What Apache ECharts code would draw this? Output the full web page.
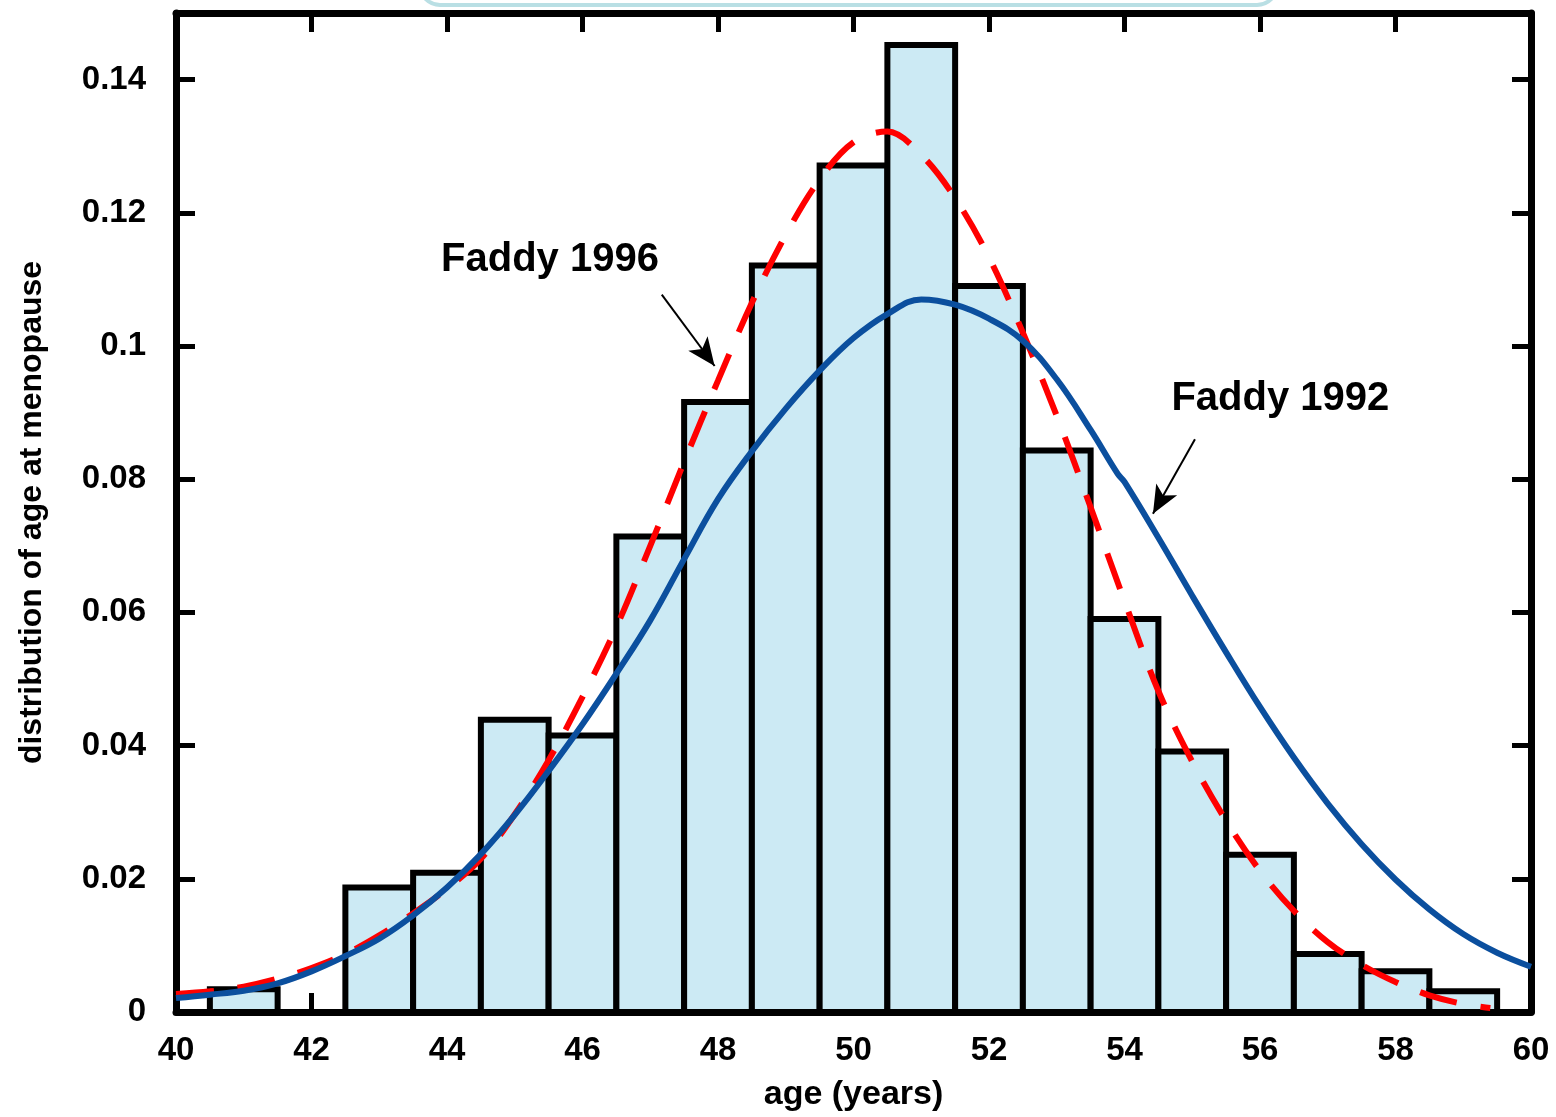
<!DOCTYPE html>
<html>
<head>
<meta charset="utf-8">
<script src="https://cdn.jsdelivr.net/npm/echarts@6/dist/echarts.min.js"></script>
<style>
  html, body { margin: 0; padding: 0; background: #fff; overflow: hidden; }
  #chart { width: 1556px; height: 1117px; }
</style>
</head>
<body>
<div id="chart"></div>
<script>
  // histogram bins (1 year wide, centred on the age)
  var barAges = [41, 43, 44, 45, 46, 47, 48, 49, 50, 51, 52, 53, 54, 55, 56, 57, 58, 59]
  var barValues = [0.0034, 0.0187, 0.0209, 0.0439, 0.0415, 0.0714, 0.0916, 0.1121, 0.1271, 0.1452,
    0.1090, 0.0843, 0.0590, 0.0391, 0.0236, 0.0087, 0.0061, 0.0031]

  // Faddy 1996 (red dashed)
  var redAges = [40, 40.5, 41, 41.5, 42, 42.5, 43, 43.5, 44, 44.5, 45, 45.5, 46, 46.5, 47, 47.5, 48, 48.5,
    49, 49.5, 50, 50.5, 51, 51.5, 52, 52.5, 53, 53.5, 54, 54.5, 55, 55.5, 56, 56.5, 57, 57.5, 58,
    58.5, 59, 59.4]
  var redValues = [0.0027, 0.0031, 0.0038, 0.0050, 0.0066, 0.0087, 0.0115, 0.0148, 0.0185, 0.0230, 0.0297,
    0.0378, 0.0473, 0.0578, 0.0700, 0.0826, 0.0948, 0.1065, 0.1167, 0.1250, 0.1306, 0.1322, 0.1287,
    0.1222, 0.1133, 0.1020, 0.0895, 0.0758, 0.0617, 0.0482, 0.0376, 0.0287, 0.0212, 0.0152, 0.0105, 0.0071,
    0.0045, 0.0025, 0.0012, 0.0006]

  // Faddy 1992 (blue)
  var blueAges = [40, 40.5, 41, 41.5, 42, 42.5, 43, 43.5, 44, 44.5, 45, 45.5, 46, 46.5, 47, 47.5, 48, 48.5,
    49, 49.5, 50, 50.5, 51, 51.5, 52, 52.5, 53, 53.5, 53.9, 54, 54.5, 55, 55.5, 56, 56.5, 57, 57.5, 58,
    58.5, 59, 59.5, 60]
  var blueValues = [0.0021, 0.0026, 0.0032, 0.0043, 0.0061, 0.0084, 0.0110, 0.0145, 0.0187, 0.0237, 0.0296,
    0.0362, 0.0432, 0.0508, 0.0588, 0.0680, 0.0770, 0.0842, 0.0906, 0.0963, 0.1012, 0.1048, 0.1070, 0.1062,
    0.1041, 0.1008, 0.0950, 0.0874, 0.0808, 0.0796, 0.0712, 0.0625, 0.0540, 0.0458, 0.0382, 0.0313, 0.0252,
    0.0199, 0.0154, 0.0117, 0.0089, 0.0068]

  // annotation anchors [age, value]
  var label1996 = [45.52, 0.1129]
  var arrow1996 = [[47.17, 0.1077], [47.95, 0.0970]]
  var label1992 = [56.3, 0.0920]
  var arrow1992 = [[55.04, 0.0860], [54.42, 0.0748]]

  function zip(xs, ys) {
    return xs.map(function (x, i) { return [x, ys[i]] })
  }

  var font = "'Liberation Sans', Arial, sans-serif"
  var frame = {show: true, onZero: false, lineStyle: {color: '#000', width: 7}}
  var ticks = {show: true, inside: true, length: 19, lineStyle: {color: '#000', width: 5}}

  var myChart = echarts.init(document.getElementById('chart'))
  var option = {
    animation: false,
    backgroundColor: '#fff',
    graphic: [{
      type: 'rect',
      shape: {x: 420, y: -40, width: 857, height: 45, r: 20},
      style: {fill: '#fff', stroke: '#b9dfe4', lineWidth: 4},
      z: -10
    }],
    grid: {left: 176, right: 25, top: 13, bottom: 94},
    xAxis: [{
      type: 'value',
      min: 40,
      max: 60,
      interval: 2,
      position: 'bottom',
      name: 'age (years)',
      nameLocation: 'middle',
      nameGap: 66,
      nameTextStyle: {color: '#000', fontFamily: font, fontWeight: 'bold', fontSize: 34},
      axisLine: frame,
      axisTick: ticks,
      splitLine: {show: false},
      axisLabel: {color: '#000', fontFamily: font, fontWeight: 'bold', fontSize: 33, margin: 22}
    }, {
      type: 'value',
      min: 40,
      max: 60,
      interval: 2,
      position: 'top',
      axisLine: frame,
      axisTick: ticks,
      splitLine: {show: false},
      axisLabel: {show: false}
    }],
    yAxis: [{
      type: 'value',
      min: 0,
      max: 0.15,
      interval: 0.02,
      position: 'left',
      name: 'distribution of age at menopause',
      nameLocation: 'middle',
      nameGap: 128,
      nameTextStyle: {color: '#000', fontFamily: font, fontWeight: 'bold', fontSize: 32},
      axisLine: frame,
      axisTick: ticks,
      splitLine: {show: false},
      axisLabel: {color: '#000', fontFamily: font, fontWeight: 'bold', fontSize: 33, margin: 30, showMaxLabel: false}
    }, {
      type: 'value',
      min: 0,
      max: 0.15,
      interval: 0.02,
      position: 'right',
      axisLine: frame,
      axisTick: ticks,
      splitLine: {show: false},
      axisLabel: {show: false}
    }],
    series: [{
      name: 'histogram',
      type: 'custom',
      z: 2,
      data: zip(barAges, barValues),
      renderItem: function (params, api) {
        var x = api.value(0)
        var p0 = api.coord([x - 0.5, api.value(1)])
        var p1 = api.coord([x + 0.5, 0])
        return {
          type: 'rect',
          shape: {x: p0[0], y: p0[1], width: p1[0] - p0[0], height: p1[1] - p0[1]},
          style: {fill: '#cceaf4', stroke: '#000', lineWidth: 6}
        }
      }
    }, {
      name: 'Faddy 1996',
      type: 'line',
      z: 3,
      data: zip(redAges, redValues),
      smooth: 0.35,
      showSymbol: false,
      lineStyle: {color: '#ff0000', width: 6, type: [38, 24]},
      markLine: {
        silent: true,
        symbol: ['none', 'arrow'],
        symbolSize: [18, 28],
        label: {show: false},
        lineStyle: {color: '#000', width: 2, type: 'solid'},
        data: [[{coord: arrow1996[0]}, {coord: arrow1996[1]}]]
      },
      markPoint: {
        silent: true,
        symbol: 'rect',
        symbolSize: 1,
        itemStyle: {color: 'rgba(0,0,0,0)'},
        label: {show: true, position: 'inside', formatter: 'Faddy 1996', color: '#000',
          fontFamily: font, fontWeight: 'bold', fontSize: 40},
        data: [{coord: label1996}]
      }
    }, {
      name: 'Faddy 1992',
      type: 'line',
      z: 4,
      data: zip(blueAges, blueValues),
      smooth: 0.4,
      showSymbol: false,
      lineStyle: {color: '#0b4f9e', width: 6},
      markLine: {
        silent: true,
        symbol: ['none', 'arrow'],
        symbolSize: [18, 28],
        label: {show: false},
        lineStyle: {color: '#000', width: 2, type: 'solid'},
        data: [[{coord: arrow1992[0]}, {coord: arrow1992[1]}]]
      },
      markPoint: {
        silent: true,
        symbol: 'rect',
        symbolSize: 1,
        itemStyle: {color: 'rgba(0,0,0,0)'},
        label: {show: true, position: 'inside', formatter: 'Faddy 1992', color: '#000',
          fontFamily: font, fontWeight: 'bold', fontSize: 40},
        data: [{coord: label1992}]
      }
    }]
  }
  myChart.setOption(option)
</script>
</body>
</html>
